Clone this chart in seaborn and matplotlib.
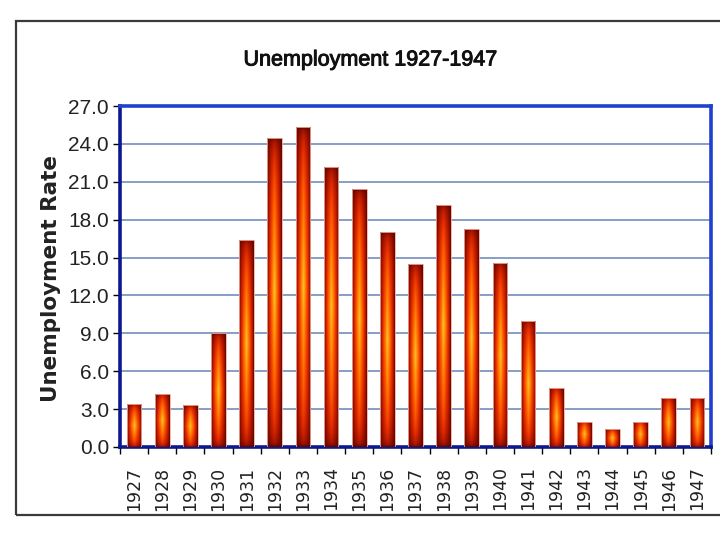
import matplotlib
matplotlib.use("Agg")
import matplotlib.pyplot as plt
import matplotlib.patheffects as pe
from matplotlib.colors import LinearSegmentedColormap
from matplotlib.patches import Rectangle
from matplotlib.ticker import FixedLocator, FormatStrFormatter
import seaborn as sns
import numpy as np

years = ["1927", "1928", "1929", "1930", "1931", "1932", "1933", "1934", "1935", "1936", "1937",
         "1938", "1939", "1940", "1941", "1942", "1943", "1944", "1945", "1946", "1947"]
rates = [3.4, 4.2, 3.3, 9.0, 16.4, 24.5, 25.3, 22.2, 20.4, 17.0, 14.5,
         19.2, 17.3, 14.6, 10.0, 4.7, 2.0, 1.4, 2.0, 3.9, 3.9]
yticks = [0, 3, 6, 9, 12, 15, 18, 21, 24, 27]

sns.set_theme(style="white")
plt.rcParams["font.family"] = ["Liberation Sans", "DejaVu Sans"]

fig = plt.figure(figsize=(7.2, 5.4), dpi=100)
fig.patch.set_facecolor("white")
ax = fig.add_axes([120 / 720, 1 - 447 / 540, 591 / 720, 341 / 540])

sns.barplot(x=years, y=rates, color="#d02000", width=0.52, ax=ax, zorder=3)

# fire-like gradient for each bar (dark edges, yellow core)
fire = LinearSegmentedColormap.from_list("fire", [
    (0.0, "#5e0600"), (0.18, "#a81400"), (0.4, "#e42e00"),
    (0.65, "#ff6400"), (0.85, "#ff9c10"), (1.0, "#ffc430")])
for p in ax.patches:
    x0, w, h = p.get_x(), p.get_width(), p.get_height()
    tu = 1 - np.abs(np.linspace(-1, 1, 60))
    tv = 1 - np.abs(np.linspace(-1, 1, 200))
    img = (tv[:, None] ** 0.45) * (tu[None, :] ** 0.9)
    im = ax.imshow(img, extent=(x0, x0 + w, 0, h), origin="lower", aspect="auto",
                   cmap=fire, vmin=0, vmax=1, zorder=2.9, interpolation="bilinear")
    im.set_clip_path(p)
    p.set_facecolor("none")
    p.set_edgecolor("#f2aa98")
    p.set_linewidth(0.6)

ax.set_xlim(-0.5, len(years) - 0.5)
ax.set_ylim(0, 27)

# grid
ax.yaxis.set_major_locator(FixedLocator(yticks))
ax.yaxis.set_major_formatter(FormatStrFormatter("%.1f"))
for v in yticks[1:-1]:
    ax.axhline(v, color="#7d96c4", lw=1.3, zorder=1)

for side in ["left", "bottom"]:
    ax.spines[side].set_color("#0c1890")
    ax.spines[side].set_linewidth(2.6)
for side in ["top", "right"]:
    ax.spines[side].set_color("#2040d0")
    ax.spines[side].set_linewidth(2.6)
    ax.spines[side].set_visible(True)

ax.tick_params(axis="y", which="major", left=True, length=5, width=1, color="black",
               pad=3, labelsize=15, labelcolor="#222222")

ax.set_xticks(range(len(years)))
ax.set_xticks(np.arange(-0.5, len(years), 1), minor=True)
ax.tick_params(axis="x", which="major", bottom=False, length=0, pad=14, labelsize=12.5,
               labelrotation=90, labelcolor="#222222")
ax.tick_params(axis="x", which="minor", bottom=True, length=5, width=1, color="black")
for lab in ax.get_xticklabels():
    lab.set_fontfamily("DejaVu Sans")

ax.set_xlabel("")
ax.set_ylabel("Unemployment Rate", fontsize=15.5, fontweight="bold",
              fontfamily="DejaVu Sans", color="#222222")
ax.yaxis.set_label_coords(-0.10, 0.495)

fig.text(370 / 720, 1 - 60 / 540, "Unemployment 1927-1947", ha="center", va="center",
         fontsize=15.5, color="#111111",
         path_effects=[pe.withStroke(linewidth=0.7, foreground="#111111")])

# outer frame around the chart
fig.patches.append(Rectangle((16 / 720, 1 - 515 / 540), 1.0, (515 - 21) / 540,
                             transform=fig.transFigure, fill=False,
                             edgecolor="#3a3a3a", lw=1.6, zorder=0))

fig.savefig("out.png", dpi=100)
